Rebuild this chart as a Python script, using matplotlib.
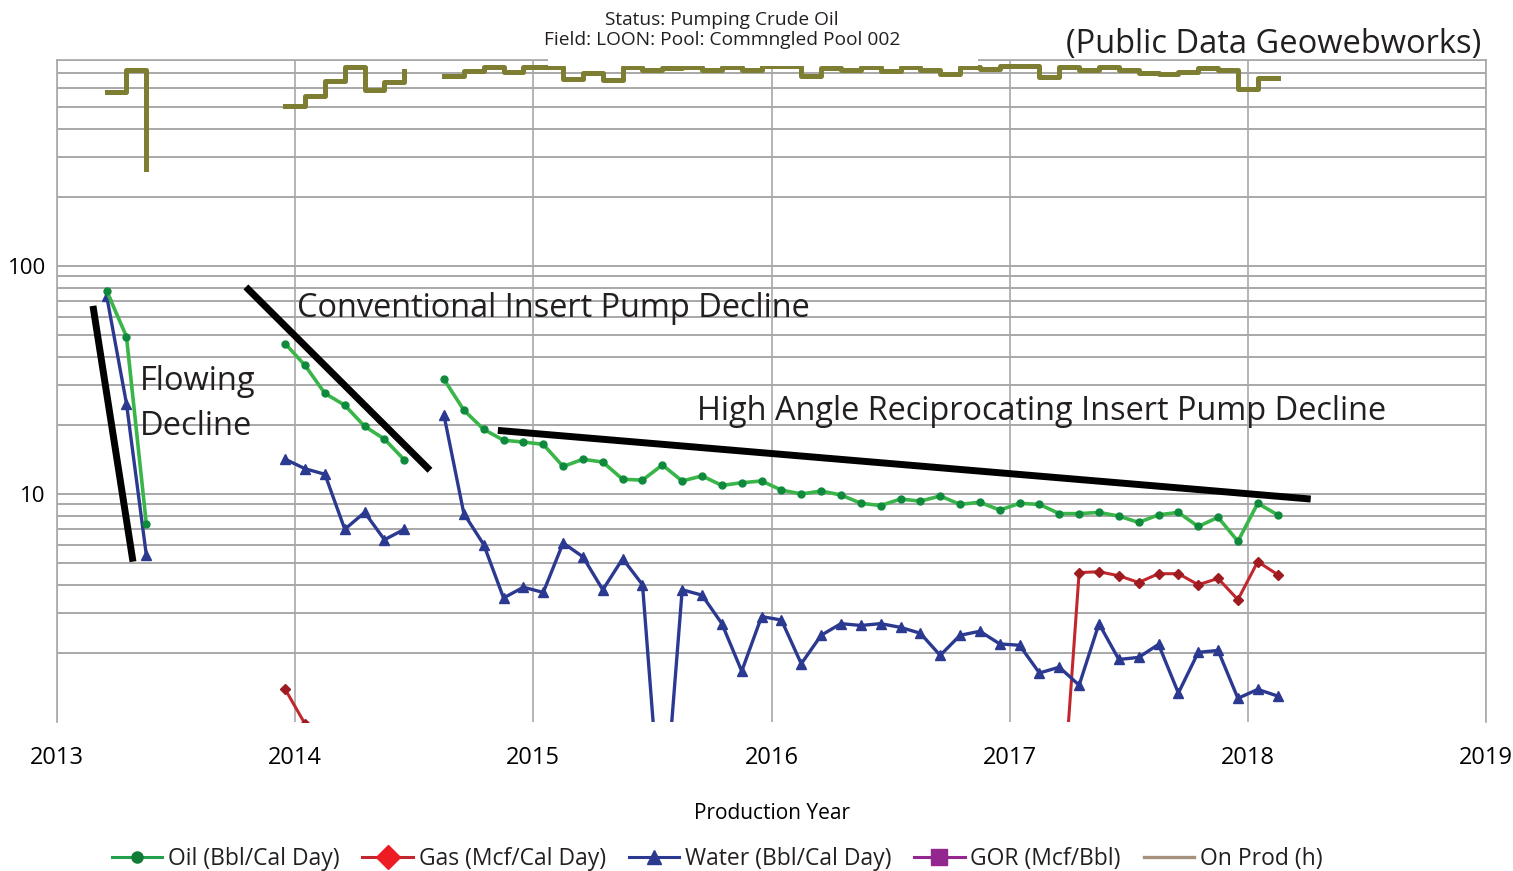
import numpy as np
import pandas as pd
import matplotlib
matplotlib.use('Agg')
import matplotlib.pyplot as plt
from matplotlib.lines import Line2D
from matplotlib.patches import Rectangle
from matplotlib.ticker import LogLocator, NullFormatter, FixedLocator, FixedFormatter

plt.rcParams['font.family'] = ['Open Sans', 'DejaVu Sans']

# months of production (three separate producing periods)
months_flow = pd.period_range('2013-03', '2013-05', freq='M')
months_conv = pd.period_range('2013-12', '2014-06', freq='M')
months_hari = pd.period_range('2014-08', '2018-02', freq='M')
months_gas_late = pd.period_range('2017-03', '2018-02', freq='M')

# Oil (Bbl/Cal Day)
oil_flow = [77.8, 49.0, 7.4]
oil_conv = [45.6, 36.6, 27.6, 24.5, 19.8, 17.4, 14.1]
oil_hari = [31.8, 23.3, 19.2, 17.2, 16.9, 16.5, 13.2, 14.2, 13.8, 11.6,
            11.5, 13.4, 11.4, 12.0, 10.9, 11.2, 11.4, 10.4, 10.0, 10.3,
            9.9, 9.1, 8.9, 9.5, 9.3, 9.8, 9.0, 9.2, 8.5, 9.1,
            9.0, 8.2, 8.2, 8.3, 8.0, 7.5, 8.1, 8.3, 7.2, 7.9,
            6.2, 9.1, 8.1]

# Water (Bbl/Cal Day)
water_flow = [74.0, 24.9, 5.4]
water_conv = [14.2, 12.9, 12.2, 7.0, 8.3, 6.3, 7.0]
water_hari = [22.1, 8.2, 6.0, 3.5, 3.9, 3.7, 6.1, 5.3, 3.8, 5.2,
              4.0, 0.3, 3.8, 3.6, 2.7, 1.67, 2.9, 2.8, 1.8, 2.4,
              2.7, 2.65, 2.7, 2.6, 2.45, 1.96, 2.4, 2.5, 2.2, 2.17,
              1.64, 1.74, 1.45, 2.7, 1.88, 1.92, 2.19, 1.34, 2.02, 2.06,
              1.27, 1.39, 1.30]

# Gas (Mcf/Cal Day)
gas_conv = [1.39, 0.98]
gas_late = [0.27, 4.52, 4.56, 4.38, 4.09, 4.47, 4.47, 4.0, 4.26, 3.44, 5.05, 4.43]

# On Prod (h)
hours_flow = [581, 725, 265]
hours_conv = [505, 558, 649, 747, 593, 642, 718]
hours_hari = [684, 719, 745, 708, 745, 745, 662, 701, 656, 745,
              725, 739, 745, 725, 745, 725, 750, 750, 684, 739,
              725, 745, 719, 745, 725, 692, 745, 733, 750, 750,
              674, 745, 725, 745, 725, 703, 696, 708, 739, 725,
              599, 668, 668]

# hand-drawn decline trend lines (year, value)
trend_flow = ([2013.151, 2013.319], [66.8, 5.05])
trend_conv = ([2013.793, 2014.566], [80.9, 12.7])
trend_hari = ([2014.851, 2018.264], [19.0, 9.5])

years = [2013, 2014, 2015, 2016, 2017, 2018, 2019]


def decimal_year(periods):
    return np.array([p.year + (p.month - 0.5) / 12 for p in periods])


c_oil = '#3ab54a'
c_oil_mk = '#0f8a3d'
c_water = '#2b3990'
c_gas = '#c1272d'
c_gas_mk = '#9e1b20'
c_hours = '#7e7e33'
grid_c = '#a8a8a8'
txt_c = '#231f20'

fig = plt.figure(figsize=(15.13, 8.71), dpi=100)
ax = fig.add_axes([57 / 1513, 1 - 722 / 871, 1429 / 1513, 662 / 871])

ax.set_yscale('log')
ax.set_ylim(1.0, 800)
ax.set_xlim(2013, 2019)

# on production hours, step line
for m, h in [(months_flow, hours_flow), (months_conv, hours_conv), (months_hari, hours_hari)]:
    ax.plot(decimal_year(m), h, drawstyle='steps-post', color=c_hours, lw=3.6, zorder=3)

# gas
for m, g in [(months_conv[:2], gas_conv), (months_gas_late, gas_late)]:
    ax.plot(decimal_year(m), g, color=c_gas, lw=2.2, marker='D', ms=5,
            mfc=c_gas_mk, mec=c_gas_mk, zorder=4)

# water
for m, w in [(months_flow, water_flow), (months_conv, water_conv), (months_hari, water_hari)]:
    ax.plot(decimal_year(m), w, color=c_water, lw=2.4, marker='^', ms=7,
            mfc=c_water, mec=c_water, zorder=5)

# oil
for m, o in [(months_flow, oil_flow), (months_conv, oil_conv), (months_hari, oil_hari)]:
    ax.plot(decimal_year(m), o, color=c_oil, lw=2.6, marker='o', ms=5,
            mfc=c_oil_mk, mec=c_oil_mk, zorder=6)

# black trend lines
for tx, ty in [trend_flow, trend_conv, trend_hari]:
    ax.plot(tx, ty, color='black', lw=5, solid_capstyle='butt', zorder=7)

# grid
ax.set_xticks(years)
ax.set_xticklabels([str(y) for y in years], fontsize=17)
ax.yaxis.set_major_locator(FixedLocator([10, 100]))
ax.yaxis.set_major_formatter(FixedFormatter(['10', '100']))
ax.yaxis.set_minor_locator(LogLocator(base=10, subs=np.arange(2, 10), numticks=20))
ax.yaxis.set_minor_formatter(NullFormatter())
ax.tick_params(axis='y', which='both', length=0, labelsize=16, pad=8)
ax.tick_params(axis='x', length=0, pad=17)
ax.grid(True, axis='y', which='both', color=grid_c, lw=1.4)
ax.grid(True, axis='x', which='major', color=grid_c, lw=1.2)
for s in ['left', 'right', 'top']:
    ax.spines[s].set_color(grid_c)
    ax.spines[s].set_linewidth(1.2)
ax.spines['bottom'].set_visible(False)

ax.set_xlabel('Production Year', fontsize=15, labelpad=24)

# annotations
ax.text(0.058, 0.480, 'Flowing\nDecline', transform=ax.transAxes, fontsize=23.5,
        va='center', ha='left', color=txt_c, linespacing=1.5, zorder=8)
ax.text(0.168, 0.625, 'Conventional Insert Pump Decline', transform=ax.transAxes,
        fontsize=23.4, va='center', ha='left', color=txt_c, zorder=8)
ax.text(0.448, 0.469, 'High Angle Reciprocating Insert Pump Decline', transform=ax.transAxes,
        fontsize=23.4, va='center', ha='left', color=txt_c, zorder=8)

# white block behind the title, hiding part of the top frame line
fig.patches.append(Rectangle((548 / 1513, 1 - 66 / 871), 430 / 1513, 12 / 871,
                             transform=fig.transFigure, facecolor='white',
                             edgecolor='none', zorder=5))
fig.text(0.477, 0.977, 'Status: Pumping Crude Oil', ha='center', va='center',
         fontsize=13.8, color=txt_c, zorder=6)
fig.text(0.477, 0.954, 'Field: LOON: Pool: Commngled Pool 002', ha='center', va='center',
         fontsize=13.8, color=txt_c, zorder=6)
fig.text(0.979, 0.949, '(Public Data Geowebworks)', ha='right', va='center',
         fontsize=23.5, color=txt_c, zorder=6)

# legend
handles = [
    Line2D([], [], color='#22a04b', lw=2.2, marker='o', ms=8, mfc='#0f7d35', mec='#0f7d35'),
    Line2D([], [], color='#c1272d', lw=2.2, marker='D', ms=12, mfc='#ed1c24', mec='#ed1c24'),
    Line2D([], [], color='#2b3990', lw=2.2, marker='^', ms=10, mfc='#2b3990', mec='#2b3990'),
    Line2D([], [], color='#93278f', lw=2.2, marker='s', ms=11, mfc='#93278f', mec='#93278f'),
    Line2D([], [], color='#a6917c', lw=2.4),
]
labels = ['Oil (Bbl/Cal Day)', 'Gas (Mcf/Cal Day)', 'Water (Bbl/Cal Day)', 'GOR (Mcf/Bbl)', 'On Prod (h)']
fig.legend(handles, labels, loc='center', bbox_to_anchor=(0.474, 0.014), ncol=5,
           frameon=False, fontsize=16.5, handlelength=2.2, handletextpad=0.25,
           columnspacing=1.0, labelcolor=txt_c)

fig.savefig('out.png', dpi=100)
